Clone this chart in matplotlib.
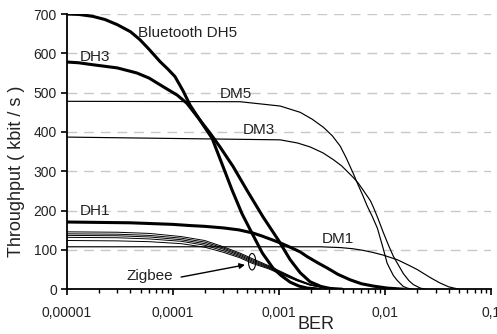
import numpy as np
import matplotlib
matplotlib.use('Agg')
import matplotlib.pyplot as plt
from matplotlib.ticker import LogLocator, NullFormatter

plt.rcParams['font.family'] = ['Liberation Sans', 'DejaVu Sans']

# ---- data (BER, kbit/s) ----
dh5_ber = [1e-5, 1.3e-5, 1.77e-5, 2.3e-5, 3e-5, 4e-5, 4.9e-5, 6e-5, 7.6e-5, 9e-5, 1.05e-4,
           1.25e-4, 1.46e-4, 1.89e-4, 2.35e-4, 2.98e-4, 3.63e-4, 4.5e-4, 5.6e-4, 7e-4,
           8.8e-4, 1.05e-3, 1.28e-3, 1.55e-3, 1.85e-3, 2.5e-3]
dh5_thr = [700, 699, 694, 686, 673, 655, 635, 610, 579, 560, 541, 505, 468, 422, 384, 312,
           252, 192, 142, 92, 54, 35, 18, 8, 3, 0]

dh3_ber = [1e-5, 1.3e-5, 1.77e-5, 3e-5, 4.6e-5, 6e-5, 7.6e-5, 9e-5, 1.1e-4, 1.36e-4, 1.81e-4,
           2.25e-4, 2.79e-4, 3.71e-4, 5e-4, 7.1e-4, 9.9e-4, 1.28e-3, 1.59e-3, 1.97e-3,
           2.5e-3, 3.05e-3, 4e-3]
dh3_thr = [578, 576, 571, 563, 550, 537, 520, 508, 494, 473, 430, 397, 362, 312, 252, 184,
           125, 75, 42, 19, 7, 2, 0]

dh1_ber = [1e-5, 4e-5, 1e-4, 1.46e-4, 2e-4, 3e-4, 4.2e-4, 5.7e-4, 7e-4, 8.8e-4, 1.03e-3,
           1.3e-3, 1.59e-3, 1.85e-3, 2.3e-3, 2.86e-3, 3.6e-3, 4.7e-3, 6e-3, 7.8e-3, 1.05e-2,
           1.5e-2]
dh1_thr = [171, 169, 165, 162, 160, 156, 151, 143, 135, 125, 118, 106, 95, 83, 68, 54, 38,
           24, 14, 8, 3, 0]

dm5_ber = [1e-5, 4.3e-4, 1.03e-3, 1.59e-3, 2.05e-3, 2.63e-3, 3.2e-3, 3.79e-3, 4.3e-3, 5e-3,
           5.6e-3, 6.2e-3, 6.8e-3, 7.6e-3, 8.5e-3, 9.6e-3, 1.05e-2, 1.2e-2, 1.31e-2,
           1.49e-2, 1.62e-2, 1.8e-2]
dm5_thr = [478, 477, 466, 450, 433, 412, 390, 364, 335, 296, 265, 238, 212, 185, 155, 105,
           66, 35, 22, 7, 3, 0]

dm3_ber = [1e-5, 1.03e-3, 1.5e-3, 1.97e-3, 2.6e-3, 3.25e-3, 3.9e-3, 4.4e-3, 5e-3, 5.6e-3,
           6.2e-3, 7.3e-3, 7.8e-3, 8.6e-3, 9.6e-3, 1.08e-2, 1.2e-2, 1.35e-2, 1.49e-2,
           1.68e-2, 1.85e-2, 2.15e-2, 2.4e-2]
dm3_thr = [387, 380, 372, 362, 347, 330, 314, 300, 285, 270, 253, 225, 208, 180, 146, 112,
           84, 60, 40, 22, 12, 3, 0]

dm1_ber = [1e-5, 1e-3, 2.45e-3, 3.8e-3, 5e-3, 6.2e-3, 7.6e-3, 9.6e-3, 1.15e-2, 1.31e-2,
           1.65e-2, 2.02e-2, 2.35e-2, 2.7e-2, 3.3e-2, 4e-2, 5e-2]
dm1_thr = [108, 108, 108, 106, 103, 99, 94, 87, 80, 75, 62, 50, 39, 29, 16, 6, 0]

zig_ber = [1e-5, 3e-5, 6e-5, 1.2e-4, 2e-4, 3e-4, 4.3e-4, 5.6e-4, 8e-4, 1.03e-3,
           1.5e-3, 2e-3, 3e-3, 4e-3]
zig_1 = [146, 145, 142, 134, 124, 108, 92, 78, 60, 46, 25, 12, 3, 0]
zig_2 = [141, 140, 137, 130, 120, 105, 89, 75, 58, 44, 24, 11, 3, 0]
zig_3 = [137, 136, 133, 126, 116, 102, 86, 72, 56, 43, 23, 11, 2, 0]
zig_4 = [132, 131, 128, 122, 112, 98, 83, 69, 54, 41, 22, 10, 2, 0]
zig_5 = [124, 123, 121, 116, 107, 94, 80, 66, 52, 39, 21, 10, 2, 0]

x_ticks = [1e-5, 1e-4, 1e-3, 1e-2, 1e-1]
x_labels = ['0,00001', '0,0001', '0,001', '0,01', '0,1']
y_ticks = [0, 100, 200, 300, 400, 500, 600, 700]

fig = plt.figure(figsize=(4.97, 3.34), dpi=100)
ax = fig.add_axes([0.134, 0.134, 0.854, 0.824])

# grid
for yv in y_ticks[1:]:
    ax.axhline(yv, color='#c8c8c8', lw=1.0, dashes=(7, 5), zorder=0)

# bluetooth DH (thick)
for bx, by in [(dh5_ber, dh5_thr), (dh3_ber, dh3_thr), (dh1_ber, dh1_thr)]:
    ax.plot(bx, by, color='black', lw=2.2, solid_capstyle='butt',
            solid_joinstyle='round', zorder=3)

# bluetooth DM (thin)
for bx, by in [(dm5_ber, dm5_thr), (dm3_ber, dm3_thr), (dm1_ber, dm1_thr)]:
    ax.plot(bx, by, color='black', lw=0.85, solid_joinstyle='round', zorder=3)

# zigbee bundle
for zy in [zig_1, zig_2, zig_3, zig_4, zig_5]:
    ax.plot(zig_ber, zy, color='black', lw=0.7, solid_joinstyle='round', zorder=3)

ax.set_xscale('log')
ax.set_xlim(1e-5, 1e-1)
ax.set_ylim(0, 700)
ax.set_xticks(x_ticks)
ax.set_xticklabels(x_labels)
ax.xaxis.set_minor_locator(LogLocator(base=10, subs=np.arange(2, 10)))
ax.xaxis.set_minor_formatter(NullFormatter())
ax.set_yticks(y_ticks)

for s in ['top', 'right']:
    ax.spines[s].set_visible(False)
for s in ['left', 'bottom']:
    ax.spines[s].set_linewidth(1.3)
    ax.spines[s].set_zorder(4)

ax.tick_params(axis='both', which='major', direction='out', length=4, width=1.2,
               labelsize=10, colors='black', labelcolor='#222222', pad=3)
ax.tick_params(axis='x', which='minor', direction='out', length=3, width=1.0)
ax.tick_params(axis='x', which='major', pad=8)

# curve labels
lab = dict(fontsize=11, color='#222222', va='center', ha='left')
ax.text(4.7e-5, 652, 'Bluetooth DH5', **lab)
ax.text(1.34e-5, 591, 'DH3', **lab)
ax.text(2.79e-4, 497, 'DM5', **lab)
ax.text(4.6e-4, 405, 'DM3', **lab)
ax.text(1.34e-5, 199, 'DH1', **lab)
ax.text(2.56e-3, 128, 'DM1', **lab)
ax.text(3.7e-5, 34, 'Zigbee', **lab)

# arrow + ellipse marking the zigbee bundle
ax.annotate('', xy=(4.8e-4, 62), xytext=(1.2e-4, 31),
            arrowprops=dict(arrowstyle='-|>', color='black', lw=1.0,
                            mutation_scale=8, shrinkA=0, shrinkB=0))
t = np.linspace(0, 2 * np.pi, 100)
ax.plot(10 ** (np.log10(5.6e-4) + 0.034 * np.cos(t)), 70 + 21 * np.sin(t),
        color='black', lw=0.8, zorder=4)

ax.set_xlabel('BER', fontsize=13, color='#222222')
ax.xaxis.set_label_coords(0.588, -0.098)
ax.set_ylabel('Throughput ( kbit / s )', fontsize=13, color='#222222')
ax.yaxis.set_label_coords(-0.098, 0.43)

fig.savefig('out.png', dpi=100)
